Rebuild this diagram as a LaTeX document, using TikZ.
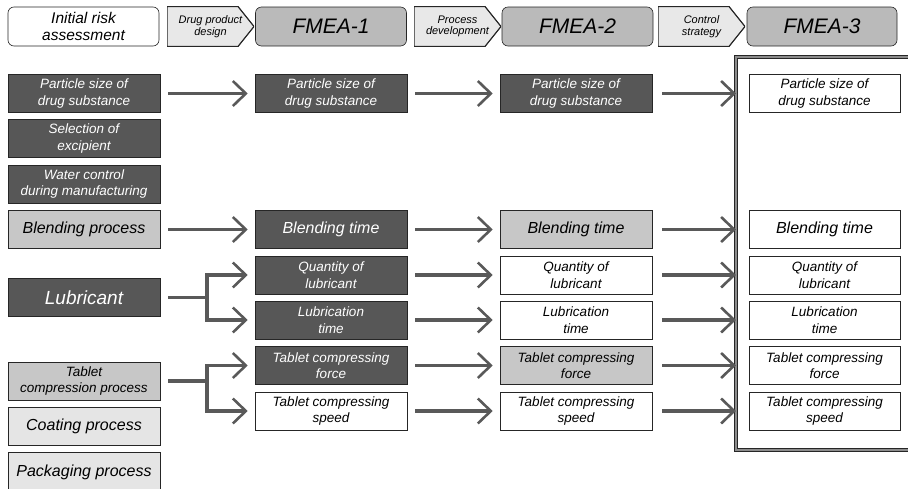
\documentclass[tikz,border=0pt]{standalone}
\usepackage{fontspec}
\setmainfont{Liberation Sans}
\usetikzlibrary{arrows.meta, positioning}

\tikzset{
  box/.style={draw=black!85, line width=0.6pt, minimum width=152pt, minimum height=38pt,
    inner sep=1pt, align=center, font=\itshape\fontsize{13.5}{16.5}\selectfont},
  darkbox/.style={box, fill=black!66, text=white},
  greybox/.style={box, fill=black!22},
  palebox/.style={box, fill=black!10},
  whitebox/.style={box, fill=white},
  bigtext/.style={font=\itshape\fontsize{16}{18}\selectfont},
  headbox/.style={draw=black!85, line width=0.6pt, rounded corners=6pt,
    minimum width=151pt, minimum height=39pt, align=center},
  fmeabox/.style={headbox, fill=black!27, font=\itshape\fontsize{21}{24}\selectfont},
  stagebox/.style={minimum width=87pt, minimum height=40pt, inner sep=1pt, align=center,
    font=\itshape\fontsize{11}{11.5}\selectfont,
    path picture={
      \filldraw[fill=black!9, draw=black!85, line width=1.2pt]
        (path picture bounding box.north west) -- ([xshift=-16pt]path picture bounding box.north east)
        -- (path picture bounding box.east) -- ([xshift=-16pt]path picture bounding box.south east)
        -- (path picture bounding box.south west) -- cycle;
    }},
  flow/.style={line width=3.6pt, draw=black!65, shorten <=8pt},
  flowto/.style={flow, -{Straight Barb[length=13pt, width=25pt, line width=2.6pt]}, shorten >=7pt},
}

\begin{document}
\begin{tikzpicture}[x=1pt, y=-1pt]
    \useasboundingbox (0,0) rectangle (908,488);

    % header row
    \node[headbox, fill=white, font=\itshape\fontsize{15.5}{17.5}\selectfont] (ira) at (83.5,26.5) {Initial risk\\assessment};
    \node[stagebox] (dpd) at (210.5,26.5) {Drug product\\design};
    \node[fmeabox] (fm1) at (331,26.5) {FMEA-1};
    \node[stagebox] (pdev) at (457.5,26.5) {Process\\development};
    \node[fmeabox] (fm2) at (577.5,26.5) {FMEA-2};
    \node[stagebox] (cst) at (701.5,26.5) {Control\\strategy};
    \node[fmeabox, minimum width=150pt] (fm3) at (822,26.5) {FMEA-3};

    % initial risk assessment column
    \node[darkbox] (psA) at (84,93.5) {Particle size of\\drug substance};
    \node[darkbox] (excA) at (84,138.5) {Selection of\\excipient};
    \node[darkbox] (watA) at (84,184) {Water control\\during manufacturing};
    \node[greybox, bigtext] (blA) at (84,229.5) {Blending process};
    \node[darkbox, font=\itshape\fontsize{19}{21}\selectfont] (lubA) at (84,297.5) {Lubricant};
    \node[greybox] (tcA) at (84,381) {Tablet\\compression process};
    \node[palebox, bigtext] (coA) at (84,426.5) {Coating process};
    \node[palebox, bigtext, minimum height=40pt] (paA) at (84,472) {Packaging process};

    % FMEA-1 column
    \node[darkbox] (psB) at (331,93.5) {Particle size of\\drug substance};
    \node[darkbox, bigtext] (blB) at (331,229.5) {Blending time};
    \node[darkbox] (qtyB) at (331,275) {Quantity of\\lubricant};
    \node[darkbox] (ltB) at (331,320) {Lubrication\\time};
    \node[darkbox] (tfB) at (331,365.5) {Tablet compressing\\force};
    \node[whitebox] (tsB) at (331,411) {Tablet compressing\\speed};

    % FMEA-2 column
    \node[darkbox] (psC) at (576,93.5) {Particle size of\\drug substance};
    \node[greybox, bigtext] (blC) at (576,229.5) {Blending time};
    \node[whitebox] (qtyC) at (576,275) {Quantity of\\lubricant};
    \node[whitebox] (ltC) at (576,320) {Lubrication\\time};
    \node[greybox] (tfC) at (576,365.5) {Tablet compressing\\force};
    \node[whitebox] (tsC) at (576,411) {Tablet compressing\\speed};

    % FMEA-3 column
    \node[whitebox, minimum width=151pt] (psD) at (824.5,93.5) {Particle size of\\drug substance};
    \node[whitebox, minimum width=151pt, bigtext] (blD) at (824.5,229.5) {Blending time};
    \node[whitebox, minimum width=151pt] (qtyD) at (824.5,275) {Quantity of\\lubricant};
    \node[whitebox, minimum width=151pt] (ltD) at (824.5,320) {Lubrication\\time};
    \node[whitebox, minimum width=151pt] (tfD) at (824.5,365.5) {Tablet compressing\\force};
    \node[whitebox, minimum width=151pt] (tsD) at (824.5,411) {Tablet compressing\\speed};

    % frame round the control strategy
    \coordinate (bar) at (736,0);
    \draw[draw=black!85, line width=1pt, double=black!45, double distance=1.8pt]
        (914,57) -| (736,450) -- (914,450);

    % forks
    \coordinate (lubfork) at (207,297.5);
    \coordinate (tcfork) at (207,381);
    \draw[flow] (lubA.east) -- (lubfork);
    \draw[flowto, shorten <=0pt] (lubfork) |- (qtyB.west);
    \draw[flowto, shorten <=0pt] (lubfork) |- (ltB.west);
    \draw[flow] (tcA.east) -- (tcfork);
    \draw[flowto, shorten <=0pt] (tcfork) |- (tfB.west);
    \draw[flowto, shorten <=0pt] (tcfork) |- (tsB.west);

    % straight arrows
    \draw[flowto] (psA) -- (psB);
    \draw[flowto] (blA) -- (blB);
    \draw[flowto] (psB) -- (psC);
    \draw[flowto] (blB) -- (blC);
    \draw[flowto] (qtyB) -- (qtyC);
    \draw[flowto] (ltB) -- (ltC);
    \draw[flowto] (tfB) -- (tfC);
    \draw[flowto] (tsB) -- (tsC);

    % into the frame
    \draw[flowto, shorten <=10pt, shorten >=0pt] (psC.east) -- (psC.east -| bar);
    \draw[flowto, shorten <=10pt, shorten >=0pt] (blC.east) -- (blC.east -| bar);
    \draw[flowto, shorten <=10pt, shorten >=0pt] (qtyC.east) -- (qtyC.east -| bar);
    \draw[flowto, shorten <=10pt, shorten >=0pt] (ltC.east) -- (ltC.east -| bar);
    \draw[flowto, shorten <=10pt, shorten >=0pt] (tfC.east) -- (tfC.east -| bar);
    \draw[flowto, shorten <=10pt, shorten >=0pt] (tsC.east) -- (tsC.east -| bar);
\end{tikzpicture}
\end{document}
